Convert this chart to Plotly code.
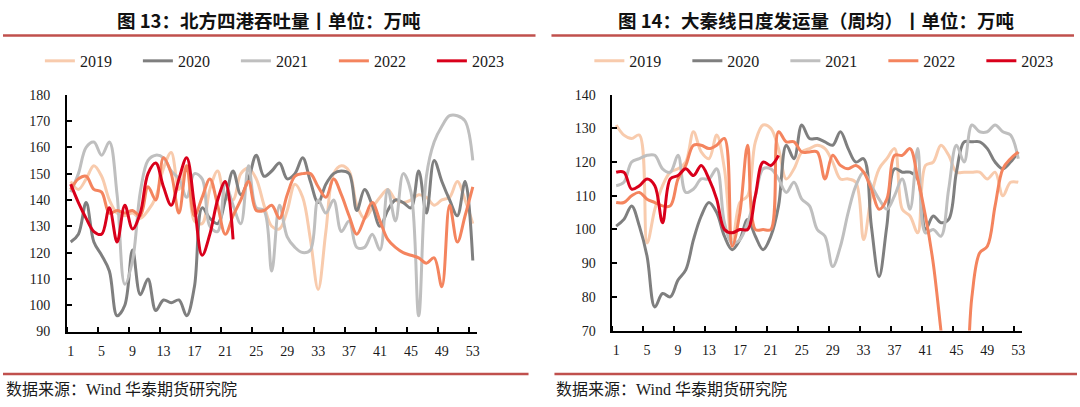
import plotly.graph_objects as go

weeks = list(range(1, 54))

# 图13 北方四港吞吐量（万吨）
north_2019 = [147,144,148,153,149,140,135,134,135,133,136,141,152,158,144,153,132,131,144,151,
              141,140,150,152,148,138,130,129,136,146,141,125,106,128,150,153,151,138,133,137,
              141,144,140,139,140,142,141,138,140,141,147,140,131]
north_2020 = [124,127,139,124,119,113,96,100,121,104,110,98,102,101,102,96,107,137,133,131,
              140,151,142,148,157,149,151,154,148,150,156,147,139,146,150,151,150,136,144,138,
              130,136,140,139,137,151,135,155,147,140,134,147,117]
north_2021 = [143,150,160,162,157,162,142,108,117,143,155,157,156,151,148,141,150,148,130,128,
              146,138,131,153,137,136,113,138,126,122,120,121,140,135,140,128,132,122,122,127,
              121,144,132,150,143,96,149,162,168,172,172,170,155]
north_2022 = [144,148,149,144,143,135,136,135,136,134,145,140,156,150,135,153,134,141,148,138,
              127,134,140,147,136,136,138,133,142,149,150,150,145,141,148,142,134,127,133,139,
              132,125,122,120,119,118,116,118,107,138,124,134,145]
north_2023 = [146,139,133,128,127,137,124,138,129,135,150,154,145,138,148,156,138,119,127,140,
              147,125]

# 图14 大秦线日度发运量（周均，万吨）
daqin_2019 = [131,128,127,128,96,106,113,117,118,120,129,123,121,128,118,96,108,110,126,131,
              130,124,115,118,123,124,125,124,120,115,115,114,97,110,118,121,124,106,104,99,
              119,120,125,122,117,117,117,117,115,117,110,114,114]
daqin_2020 = [101,103,107,101,92,77,81,80,85,88,97,104,108,105,98,94,97,103,98,94,
              98,107,125,121,131,127,127,126,125,129,124,120,121,101,86,101,118,117,117,115,
              100,104,102,103,117,126,126,126,124,120,118,120,123]
daqin_2021 = [113,114,120,121,122,122,118,117,122,111,112,115,115,118,102,96,97,102,110,118,
              118,115,111,114,109,107,100,98,89,95,105,113,117,113,109,106,110,115,106,124,
              99,100,98,112,125,120,131,129,129,131,129,128,121]
daqin_2022 = [108,108,110,111,109,108,107,107,115,119,125,125,124,125,127,95,105,125,100,100,
              100,129,126,126,123,123,123,115,122,119,118,119,117,112,106,109,122,122,124,115,
              104,90,70,50,45,50,80,93,95,107,118,121,123]
daqin_2023 = [117,117,112,113,115,113,102,115,116,118,116,119,115,109,100,99,100,100,110,120,
              119,122]

years = ["2019", "2020", "2021", "2022", "2023"]
colors = ["#F8CBAD", "#7F7F7F", "#BFBFBF", "#F4845E", "#D9001B"]
north = [north_2019, north_2020, north_2021, north_2022, north_2023]
daqin = [daqin_2019, daqin_2020, daqin_2021, daqin_2022, daqin_2023]

week_labels = [1, 5, 9, 13, 17, 21, 25, 29, 33, 37, 41, 45, 49, 53]
boundary_ticks = [0.5 + 4 * k for k in range(14)]

W, H = 1080, 407
fig = go.Figure()
for yr, col, s in zip(years, colors, north):
    fig.add_trace(go.Scatter(x=weeks[:len(s)], y=s, name=yr, mode="lines",
                             line=dict(color=col, width=3, shape="spline", smoothing=1),
                             xaxis="x", yaxis="y", legend="legend"))
for yr, col, s in zip(years, colors, daqin):
    fig.add_trace(go.Scatter(x=weeks[:len(s)], y=s, name=yr, mode="lines",
                             line=dict(color=col, width=3, shape="spline", smoothing=1),
                             xaxis="x2", yaxis="y2", legend="legend2"))

serif = "Liberation Serif, Times New Roman, serif"
tickfont = dict(family=serif, size=14, color="#1a1a1a")

def xax(domain, anchor):
    return dict(domain=domain, anchor=anchor, range=[0.5, 53.5], tickmode="array",
                tickvals=week_labels, ticks="", showline=True, linecolor="black",
                linewidth=1.5, showgrid=False, zeroline=False, tickfont=tickfont,
                ticklabelstandoff=6,
                minor=dict(tickmode="array", tickvals=boundary_ticks, ticks="inside",
                           ticklen=5, tickcolor="black", tickwidth=1.5, showgrid=False))

def yax(domain, anchor, rng):
    return dict(domain=domain, anchor=anchor, range=rng, tickmode="linear", dtick=10,
                ticks="inside", ticklen=5, tickcolor="black", tickwidth=1.5,
                showline=True, linecolor="black", linewidth=1.5, showgrid=False,
                zeroline=False, tickfont=tickfont, ticklabelstandoff=12)

legend_common = dict(orientation="h", yanchor="middle", xanchor="left",
                     entrywidth=53, entrywidthmode="pixels",
                     font=dict(family=serif, size=16, color="#1a1a1a"),
                     bgcolor="rgba(0,0,0,0)", tracegroupgap=0)

red = "#C0504D"
shapes = [
    dict(type="line", xref="paper", yref="paper", x0=3/W, x1=537/W, y0=1-29.5/H, y1=1-29.5/H,
         line=dict(color=red, width=2.5)),
    dict(type="line", xref="paper", yref="paper", x0=553/W, x1=1077/W, y0=1-29.5/H, y1=1-29.5/H,
         line=dict(color=red, width=2.5)),
    dict(type="line", xref="paper", yref="paper", x0=3/W, x1=530/W, y0=1-381/H, y1=1-381/H,
         line=dict(color=red, width=2.5)),
    dict(type="line", xref="paper", yref="paper", x0=556/W, x1=1080/W, y0=1-381/H, y1=1-381/H,
         line=dict(color=red, width=2.5)),
]

src_font = dict(family="Liberation Serif, Noto Sans CJK SC", size=16, color="#1a1a1a")
title_font = dict(family="Noto Sans CJK SC", size=18.5, color="#111111")
annotations = [
    dict(text="<b>图 13：北方四港吞吐量丨单位：万吨</b>", x=270/W, y=1-14/H, xref="paper",
         yref="paper", showarrow=False, xanchor="center", yanchor="middle", font=title_font),
    dict(text="<b>图 14：大秦线日度发运量（周均）丨单位：万吨</b>", x=818/W, y=1-14/H,
         xref="paper", yref="paper", showarrow=False, xanchor="center", yanchor="middle",
         font=title_font),
    dict(text="数据来源：Wind 华泰期货研究院", x=4/W, y=1-397/H, xref="paper", yref="paper",
         showarrow=False, xanchor="left", yanchor="middle", font=src_font),
    dict(text="数据来源：Wind 华泰期货研究院", x=556/W, y=1-397/H, xref="paper", yref="paper",
         showarrow=False, xanchor="left", yanchor="middle", font=src_font),
]

fig.update_layout(
    width=W, height=H, margin=dict(l=0, r=0, t=0, b=0, pad=0),
    paper_bgcolor="white", plot_bgcolor="white",
    xaxis=xax([67/W, 478/W], "y"),
    yaxis=yax([1-337/H, 1-91/H], "x", [90, 180]),
    xaxis2=xax([614/W, 1025/W], "y2"),
    yaxis2=yax([1-336/H, 1-91/H], "x2", [70, 140]),
    legend=dict(x=40/W, y=1-56/H, **legend_common),
    legend2=dict(x=591/W, y=1-56/H, **legend_common),
    shapes=shapes, annotations=annotations,
)

fig.write_html("out.html")
